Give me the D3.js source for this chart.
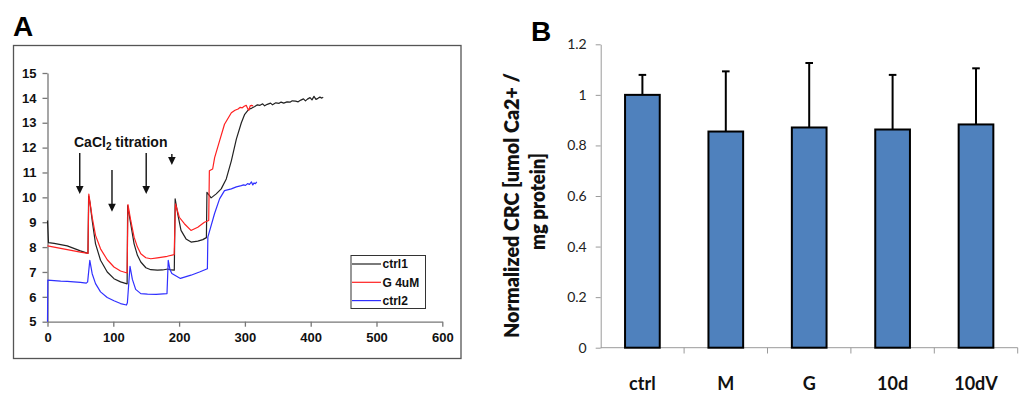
<!DOCTYPE html>
<html><head><meta charset="utf-8">
<script src="https://cdn.jsdelivr.net/npm/d3@7"></script>
<style>body{margin:0;background:#fff}svg{display:block}</style>
</head><body>
<svg id="c" width="1034" height="393"></svg>
<script>
// ---------- Panel A data: [time, value] ----------
const ctrl1 = [[0,9.07],[1.5,8.18],[10,8.15],[20,8.1],[30,8.05],[40,7.95],[50,7.85],[58,7.78],[61.5,7.75],[62.5,10.05],[64.5,9.8],[67.9,9.07],[73,8.13],[80.6,7.47],[90.8,7.0],[101,6.73],[111,6.6],[121,6.52],[121.8,9.67],[126.5,8.93],[131.6,8.13],[136.7,7.67],[141.8,7.4],[149.5,7.17],[157,7.09],[167,7.07],[175,7.08],[182.7,7.12],[188,7.08],[192.7,7.07],[194,9.94],[197.9,9.34],[202.9,8.67],[210.5,8.33],[218.2,8.2],[228.4,8.24],[236,8.3],[241.5,8.38],[242.3,10.2],[248.7,9.98],[256.4,10.14],[264,10.34],[271.7,10.74],[279.4,11.47],[287,12.34],[294.6,13.0],[299.7,13.34],[305.8,13.54],[310,13.58],[315,13.65],[319,13.72],[323,13.7],[327,13.76],[330,13.68],[334,13.74],[339,13.79],[342,13.72],[347,13.8],[352,13.78],[355,13.83],[359,13.79],[364,13.84],[369,13.83],[372,13.88],[377,13.87],[381,13.84],[385,13.91],[389,13.96],[392,13.88],[395,13.95],[399,14.01],[402,13.92],[405,14.06],[408,13.94],[411,13.98],[414,14.03],[417,13.99],[419,14.03]];
const g4uM = [[0,8.05],[10,8.0],[20,7.95],[30,7.9],[40,7.85],[50,7.8],[61.5,7.75],[62.8,10.13],[67.9,9.2],[73,8.47],[80.6,7.93],[90.8,7.49],[101,7.2],[111,7.04],[121,6.96],[122.3,9.71],[126.5,9.07],[131.6,8.4],[136.7,8.0],[141.8,7.73],[149.5,7.57],[157,7.53],[167,7.57],[182,7.63],[192.5,7.7],[194.5,9.74],[200.3,9.2],[208,8.94],[218,8.67],[228.4,8.8],[238.5,9.0],[245,9.07],[246,11.07],[251,11.14],[254,11.6],[261.5,12.27],[269,12.94],[279.4,13.4],[285,13.5],[289.6,13.55],[293,13.62],[296,13.6],[299,13.66],[302,13.7],[304,13.58],[306,13.5],[308,13.68],[310,13.7],[312.5,13.68]];
const ctrl2 = [[0,5.0],[0.5,6.67],[10,6.65],[20,6.63],[30,6.62],[40,6.6],[50,6.58],[59,6.55],[61,6.6],[64.3,7.47],[67.9,6.93],[73,6.53],[80.6,6.2],[90.8,5.97],[101,5.84],[111,5.73],[120,5.67],[121.4,5.76],[125.4,7.23],[129,6.7],[134,6.3],[141.8,6.13],[152,6.11],[165,6.1],[181.6,6.13],[183.5,7.47],[186,7.1],[189,6.94],[202,6.74],[218,6.87],[231,7.0],[243,7.13],[243.7,8.4],[253.8,9.34],[261.5,9.94],[269,10.27],[279.4,10.34],[287,10.42],[294.6,10.47],[298,10.5],[301,10.48],[304,10.55],[307,10.52],[310,10.62],[312,10.5],[314,10.58],[316,10.55],[318,10.62]];
const seriesNames = ["ctrl1","G 4uM","ctrl2"];
const xTicksA = [0,100,200,300,400,500,600];
const yTicksA = [5,6,7,8,9,10,11,12,13,14,15];
// titration arrows: [time, top value, tip value]
const arrowsA = [[49,11.78,10.13],[98,11.1,9.42],[150,11.78,10.13],[189,11.74,11.3]];

// ---------- Panel B data ----------
const categories = ["ctrl","M","G","10d","10dV"];
const means = [1.0,0.855,0.871,0.863,0.883];
const errors = [0.079,0.238,0.255,0.216,0.222];
const yTicksB = [0,0.2,0.4,0.6,0.8,1,1.2];

const svg = d3.select("#c");
const fA = "'Liberation Sans', Arial, sans-serif";
const fB = "Lato, 'Open Sans', sans-serif";

// ===== Panel A =====
svg.append("text").attr("x",13).attr("y",36).attr("font-family",fA).attr("font-weight","bold")
  .attr("font-size",28).text("A");
svg.append("rect").attr("x",13.5).attr("y",45.5).attr("width",447.5).attr("height",313)
  .attr("fill","none").attr("stroke","#555").attr("stroke-width",1.3);

const xA = d3.scaleLinear().domain([0,600]).range([47.5,442.3]);
const yA = d3.scaleLinear().domain([5,15]).range([321.7,73]);

const axA = svg.append("g").attr("transform","translate(0,321.7)")
  .call(d3.axisBottom(xA).tickValues(xTicksA).tickSize(5).tickSizeOuter(0).tickPadding(6));
const ayA = svg.append("g").attr("transform","translate(47.5,0)")
  .call(d3.axisLeft(yA).tickValues(yTicksA).tickSize(5).tickSizeOuter(0).tickPadding(6));
[axA,ayA].forEach(g=>{
  g.selectAll("path,line").attr("stroke","#777").attr("stroke-width",1.3);
  g.selectAll("text").attr("font-family",fA).attr("font-weight","bold").attr("font-size",13).attr("fill","#111");
});

const colors = ["#222222","#ff2020","#3030ff"];
const line = d3.line().x(d=>xA(d[0])).y(d=>yA(d[1]));
[ctrl1,g4uM,ctrl2].forEach((s,i)=>{
  svg.append("path").attr("d",line(s)).attr("fill","none").attr("stroke",colors[i])
    .attr("stroke-width",1.2).attr("stroke-linejoin","round");
});

// annotation
const ann = svg.append("text").attr("x",74).attr("y",147).attr("font-family",fA)
  .attr("font-weight","bold").attr("font-size",14).attr("fill","#111");
ann.append("tspan").text("CaCl");
ann.append("tspan").attr("font-size",10).attr("dy",3).text("2");
ann.append("tspan").attr("dy",-3).text(" titration");

arrowsA.forEach(a=>{
  const x = xA(a[0]), y0 = yA(a[1]), y1 = yA(a[2]);
  svg.append("line").attr("x1",x).attr("x2",x).attr("y1",y0).attr("y2",y1-6)
    .attr("stroke","#111").attr("stroke-width",1.4);
  svg.append("path").attr("d",`M${x-3.8},${y1-8}L${x+3.8},${y1-8}L${x},${y1}Z`).attr("fill","#111");
});

// legend
const lg = svg.append("g");
lg.append("rect").attr("x",351).attr("y",255.5).attr("width",74.5).attr("height",53)
  .attr("fill","#fff").attr("stroke","#333").attr("stroke-width",1);
seriesNames.forEach((n,i)=>{
  const y = 264 + i*18.3;
  lg.append("line").attr("x1",352).attr("x2",381).attr("y1",y).attr("y2",y)
    .attr("stroke",colors[i]).attr("stroke-width",1.2);
  lg.append("text").attr("x",382.5).attr("y",y+4.3).attr("font-family",fA).attr("font-weight","bold")
    .attr("font-size",12).attr("fill","#111").text(n);
});

// ===== Panel B =====
svg.append("text").attr("x",531).attr("y",40.5).attr("font-family",fA).attr("font-weight","bold")
  .attr("font-size",28).text("B");

const xB = d3.scaleBand().domain(categories).range([600.7,1017.7]).paddingInner(0.584).paddingOuter(0.292);
const yB = d3.scaleLinear().domain([0,1.2]).range([347.7,44.3]);

const ayB = svg.append("g").attr("transform","translate(600.7,0)")
  .call(d3.axisLeft(yB).tickValues(yTicksB).tickSize(5).tickSizeOuter(0).tickPadding(9)
    .tickFormat(d=>String(+d.toFixed(1))));
ayB.selectAll("path,line").attr("stroke","#9a9a9a").attr("stroke-width",1);
ayB.selectAll("text").attr("font-family",fB).attr("font-size",14).attr("fill","#222");

// x axis with ticks at band boundaries
const step = xB.step();
const bounds = d3.range(categories.length+1).map(i=>600.7+i*step);
svg.append("line").attr("x1",600.7).attr("x2",1017.7).attr("y1",347.7).attr("y2",347.7)
  .attr("stroke","#9a9a9a").attr("stroke-width",1);
svg.selectAll(".xbt").data(bounds.slice(1)).enter().append("line")
  .attr("x1",d=>d).attr("x2",d=>d).attr("y1",347.7).attr("y2",353.5)
  .attr("stroke","#9a9a9a").attr("stroke-width",1);
svg.selectAll(".xbl").data(categories).enter().append("text")
  .attr("x",d=>xB(d)+xB.bandwidth()/2).attr("y",390).attr("text-anchor","middle")
  .attr("font-family",fB).attr("font-weight","bold").attr("font-size",18).attr("fill","#111").text(d=>d);

// error bars
categories.forEach((c,i)=>{
  const cx = xB(c)+xB.bandwidth()/2;
  svg.append("line").attr("x1",cx).attr("x2",cx).attr("y1",yB(means[i])).attr("y2",yB(means[i]+errors[i]))
    .attr("stroke","#000").attr("stroke-width",2);
  svg.append("line").attr("x1",cx-3.8).attr("x2",cx+3.8).attr("y1",yB(means[i]+errors[i])).attr("y2",yB(means[i]+errors[i]))
    .attr("stroke","#000").attr("stroke-width",2);
});
// bars
svg.selectAll(".bar").data(categories).enter().append("rect")
  .attr("x",d=>xB(d)).attr("width",xB.bandwidth())
  .attr("y",(d,i)=>yB(means[i])).attr("height",(d,i)=>yB(0)-yB(means[i]))
  .attr("fill","#4f81bd").attr("stroke","#000").attr("stroke-width",2);

// y axis title (two lines, rotated)
svg.append("text").attr("transform","translate(519,205.5) rotate(-90)")
  .attr("text-anchor","middle").attr("font-family",fB).attr("font-weight",800)
  .attr("font-size",20).attr("fill","#111")
  .attr("textLength",265).attr("lengthAdjust","spacingAndGlyphs")
  .text("Normalized CRC [umol Ca2+ /");
svg.append("text").attr("transform","translate(544.5,201.5) rotate(-90)")
  .attr("text-anchor","middle").attr("font-family",fB).attr("font-weight",800)
  .attr("font-size",20).attr("fill","#111")
  .attr("textLength",97).attr("lengthAdjust","spacingAndGlyphs")
  .text("mg protein]");
</script>
</body></html>
